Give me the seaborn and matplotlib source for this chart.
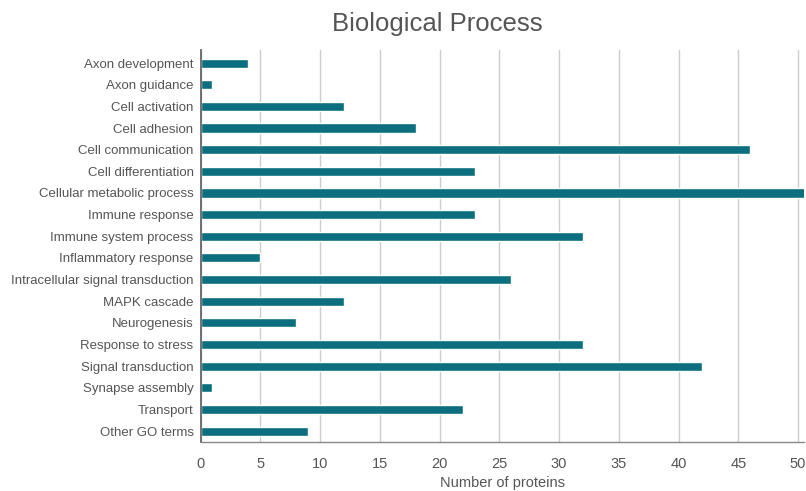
import pandas as pd
import seaborn as sns
import matplotlib.pyplot as plt

# GO biological process categories and protein counts
categories = ["Axon development", "Axon guidance", "Cell activation", "Cell adhesion",
              "Cell communication", "Cell differentiation", "Cellular metabolic process",
              "Immune response", "Immune system process", "Inflammatory response",
              "Intracellular signal transduction", "MAPK cascade", "Neurogenesis",
              "Response to stress", "Signal transduction", "Synapse assembly",
              "Transport", "Other GO terms"]
counts = [4, 1, 12, 18, 46, 23, 51, 23, 32, 5, 26, 12, 8, 32, 42, 1, 22, 9]
x_ticks = [0, 5, 10, 15, 20, 25, 30, 35, 40, 45, 50]

sns.set_style("white")
plt.rcParams['font.family'] = ['Liberation Sans', 'DejaVu Sans']

df = pd.DataFrame({"process": categories, "n": counts})

fig = plt.figure(figsize=(8.06, 4.91), dpi=100)
ax = fig.add_axes([0.2488, 0.10, 0.7487, 0.798])

sns.barplot(data=df, x="n", y="process", orient="h", color="#0b6f80",
            width=0.42, saturation=1, ax=ax)

ax.set_xlim(0, 50.5)
ax.set_ylim(17.5, -0.6)
ax.set_xticks(x_ticks)
ax.xaxis.grid(True, color="#cccccc", linewidth=1)
ax.set_axisbelow(True)
for s in ["top", "right"]:
    ax.spines[s].set_visible(False)
ax.spines["left"].set_color("#666666")
ax.spines["left"].set_linewidth(1.3)
ax.spines["bottom"].set_color("#888888")
ax.spines["bottom"].set_linewidth(1)
ax.tick_params(axis="both", length=0, colors="#555555")
ax.tick_params(axis="y", labelsize=9.5, pad=5)
ax.tick_params(axis="x", labelsize=10.5, pad=11)

ax.set_ylabel("")
ax.set_xlabel("")
fig.text(0.624, 1 - 483 / 491, "Number of proteins", ha="center", va="center",
         fontsize=10.5, color="#555555")
fig.text(0.542, 1 - 24 / 491, "Biological Process", ha="center", va="center",
         fontsize=18.5, color="#555555")

fig.savefig("out.png", dpi=100)
